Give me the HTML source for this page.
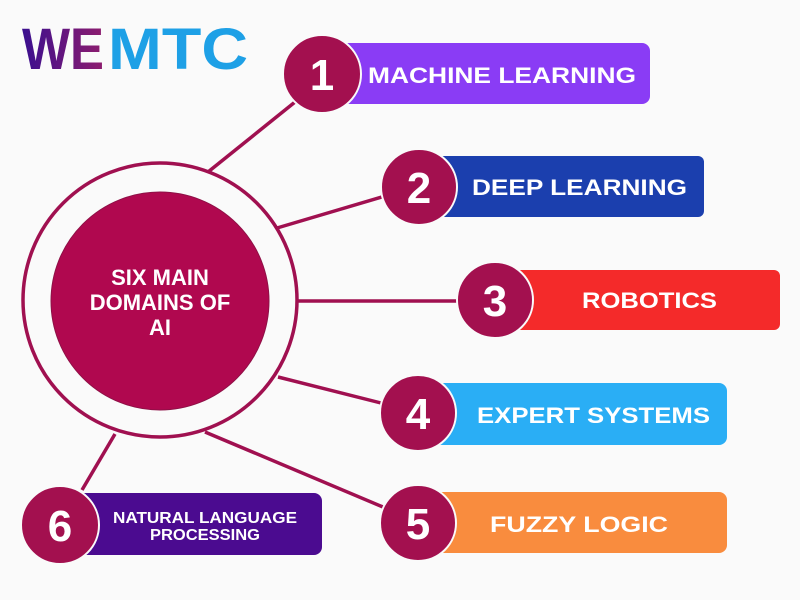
<!DOCTYPE html>
<html><head><meta charset="utf-8"><style>
body{margin:0;background:#fafafa;}
svg{display:block}
text{font-family:"Liberation Sans",sans-serif;font-weight:bold;fill:#fff}
</style></head><body>
<svg width="800" height="600" viewBox="0 0 800 600">
<defs><linearGradient id="we" x1="0" x2="1"><stop offset="0" stop-color="#3a0f8f"/><stop offset="1" stop-color="#8e1d6e"/></linearGradient></defs>
<rect width="800" height="600" fill="#fafafa"/>
<!-- logo -->
<text x="22" y="69" font-size="58" style="fill:url(#we)" textLength="82" lengthAdjust="spacingAndGlyphs">WE</text>
<text x="108" y="69" font-size="58" style="fill:#1ea0e6" textLength="140" lengthAdjust="spacingAndGlyphs">MTC</text>
<!-- lines -->
<g stroke="#a01050" stroke-width="3.5" fill="none">
<line x1="208" y1="172" x2="300" y2="98"/>
<line x1="277" y1="228" x2="385" y2="196"/>
<line x1="296" y1="301" x2="460" y2="301"/>
<line x1="278" y1="377" x2="385" y2="404"/>
<line x1="205" y1="432" x2="390" y2="510"/>
<line x1="115" y1="434" x2="82" y2="490"/>
<circle cx="160" cy="300" r="137"/>
</g>
<circle cx="160" cy="301" r="109" fill="#b0084f" stroke="#8e1046" stroke-width="1"/>
<text x="160" y="285" font-size="22" text-anchor="middle">SIX MAIN</text>
<text x="160" y="310" font-size="22" text-anchor="middle">DOMAINS OF</text>
<text x="160" y="335" font-size="22" text-anchor="middle">AI</text>
<!-- boxes -->
<rect x="330" y="43" width="320" height="61" rx="8" fill="#8a3cf5"/>
<rect x="420" y="156" width="284" height="61" rx="6" fill="#1b3fae"/>
<rect x="500" y="270" width="280" height="60" rx="6" fill="#f42a2a"/>
<rect x="420" y="383" width="307" height="62" rx="8" fill="#2aaef5"/>
<rect x="420" y="492" width="307" height="61" rx="8" fill="#f98c3e"/>
<rect x="70" y="493" width="252" height="62" rx="8" fill="#4b0b90"/>
<text x="368" y="83" font-size="22" textLength="268" lengthAdjust="spacingAndGlyphs">MACHINE LEARNING</text>
<text x="472" y="195" font-size="22" textLength="215" lengthAdjust="spacingAndGlyphs">DEEP LEARNING</text>
<text x="582" y="308" font-size="22" textLength="135" lengthAdjust="spacingAndGlyphs">ROBOTICS</text>
<text x="477" y="423" font-size="22" textLength="233" lengthAdjust="spacingAndGlyphs">EXPERT SYSTEMS</text>
<text x="490" y="532" font-size="22" textLength="178" lengthAdjust="spacingAndGlyphs">FUZZY LOGIC</text>
<text x="113" y="523" font-size="16" textLength="184" lengthAdjust="spacingAndGlyphs">NATURAL LANGUAGE</text>
<text x="150" y="540" font-size="16" textLength="110" lengthAdjust="spacingAndGlyphs">PROCESSING</text>
<!-- number circles -->
<g fill="#a3104f" stroke="#fafafa" stroke-width="2">
<circle cx="322" cy="74" r="39"/>
<circle cx="419" cy="187" r="38"/>
<circle cx="495" cy="300" r="38"/>
<circle cx="418" cy="413" r="38"/>
<circle cx="418" cy="523" r="38"/>
<circle cx="60" cy="525" r="39"/>
</g>
<g font-size="44" text-anchor="middle">
<text x="322" y="90">1</text>
<text x="419" y="203">2</text>
<text x="495" y="316">3</text>
<text x="418" y="429">4</text>
<text x="418" y="539">5</text>
<text x="60" y="541">6</text>
</g>
</svg>
</body></html>
